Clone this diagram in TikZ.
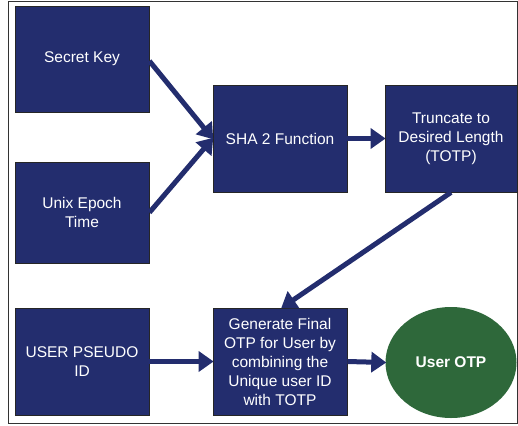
\documentclass[tikz,border=0pt]{standalone}
\usepackage{fontspec}
\setmainfont{Liberation Sans}
\usetikzlibrary{arrows.meta,shapes.geometric}
\definecolor{navy}{RGB}{35,45,110}
\definecolor{otpgreen}{RGB}{46,104,58}
\tikzset{
  stepbox/.style={draw=black!85, line width=0.8pt, fill=navy, text=white,
    inner sep=0pt, align=center, font=\fontsize{15.5}{19}\selectfont,
    minimum width=134pt, minimum height=107pt},
  flow/.style={draw=navy, line width=5pt,
    -{Triangle[length=15pt,width=20pt]}, shorten >=-1pt},
  result/.style={ellipse, fill=otpgreen, text=white, inner sep=0pt,
    minimum width=131pt, minimum height=111pt,
    font=\fontsize{15.5}{19}\selectfont\bfseries}
}
\begin{document}
\begin{tikzpicture}[x=1pt,y=-1pt]
  \useasboundingbox (0,0) rectangle (518,425);
  % outer frame
  \draw[line width=1pt, black!80] (8.5,2) rectangle (517.5,423);

  % input and processing boxes
  \node[stepbox, minimum height=106pt] (key)  at (82,59)   {Secret Key};
  \node[stepbox, minimum height=101pt] (time) at (82,212.5) {Unix Epoch\\Time};
  \node[stepbox] (uid)  at (82,361.5) {USER PSEUDO\\ID};
  \node[stepbox] (sha)  at (280,138.5) {SHA 2 Function};
  \node[stepbox, minimum width=132pt] (trunc) at (451,138.5) {Truncate to\\Desired Length\\(TOTP)};
  \node[stepbox] (gen)  at (280,361.5) {Generate Final\\OTP for User by\\combining the\\Unique user ID\\with TOTP};
  \node[result] (otp) at (451,362.5) {User OTP};

  % connectors
  \coordinate (shain) at (sha.west);
  \draw[flow] ([yshift=-2pt]key.east) -- (shain);
  \draw[flow] ([yshift=0pt]time.east) -- (shain);
  \draw[flow] (sha.east) -- (trunc.west);
  \draw[flow] (trunc.south) -- ([xshift=2pt]gen.north);
  \draw[flow] (uid.east) -- (gen.west);
  \draw[flow] (gen.east) -- (otp.west);
\end{tikzpicture}
\end{document}
